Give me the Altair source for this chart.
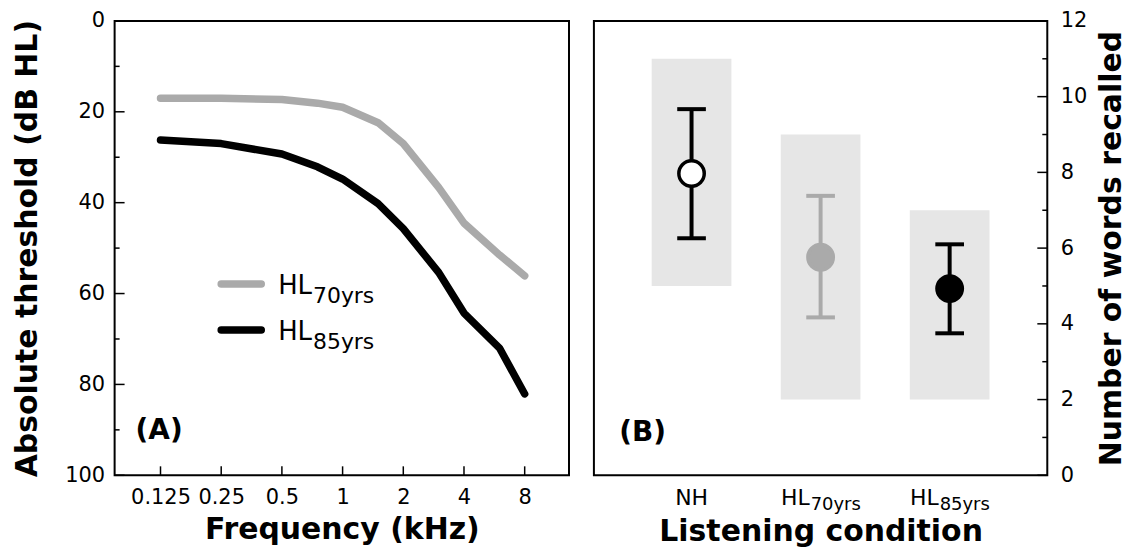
import altair as alt
import pandas as pd

# ---------------- data ----------------
freqs = [0.125, 0.25, 0.5, 0.75, 1, 1.5, 2, 3, 4, 6, 8]
hl70 = [17.0, 17.0, 17.3, 18.1, 19.0, 22.4, 27.0, 36.7, 44.5, 51.5, 56.1]
hl85 = [26.2, 27.0, 29.3, 32.1, 34.8, 40.2, 45.7, 55.4, 64.3, 72.0, 82.1]
freq_ticks = [0.125, 0.25, 0.5, 1, 2, 4, 8]
thr_major = [0, 20, 40, 60, 80, 100]
thr_minor = [10, 30, 50, 70, 90]

series_names = ["HL70", "HL85"]
series_sub = ["70yrs", "85yrs"]
legend_thr = [57.9, 68.0]

cond_x = [1, 2, 3]
cond_main = ["NH", "HL", "HL"]
cond_sub = ["", "70yrs", "85yrs"]
means = [7.97, 5.76, 4.93]
err_lo = [6.26, 4.17, 3.75]
err_hi = [9.67, 7.38, 6.10]
range_lo = [5, 2, 2]
range_hi = [11, 9, 7]
cond_fill = ["#ffffff", "#aaaaaa", "#000000"]
cond_stroke = ["#000000", "#aaaaaa", "#000000"]
words_major = [0, 2, 4, 6, 8, 10, 12]
words_minor = [1, 3, 5, 7, 9, 11]

FONT = "DejaVu Sans"
GREY = "#aaaaaa"
W_L, W_R, H = 456, 455, 456

# ---------------- panel A ----------------
df_lines = pd.DataFrame({
    "freq": freqs * 2,
    "thr": hl70 + hl85,
    "series": [series_names[0]] * len(freqs) + [series_names[1]] * len(freqs),
})
xs = alt.Scale(type="log", base=2, domain=[0.125 * 2 ** -0.756, 8 * 2 ** 0.73])
ys = alt.Scale(domain=[0, 100], reverse=True)
col = alt.Scale(domain=series_names, range=[GREY, "#000000"])
XT = "Frequency (kHz)"
YT = "Absolute threshold (dB HL)"

lines = alt.Chart(df_lines).mark_line(strokeWidth=7.5, strokeCap="round", strokeJoin="round").encode(
    x=alt.X("freq:Q", scale=xs, title=XT,
            axis=alt.Axis(values=freq_ticks, format="~g", ticks=False, domain=False, grid=False,
                          labelPadding=11, titlePadding=7)),
    y=alt.Y("thr:Q", scale=ys, title=YT,
            axis=alt.Axis(values=thr_major, ticks=False, domain=False, grid=False,
                          labelPadding=10, titlePadding=22)),
    color=alt.Color("series:N", scale=col, legend=None),
    order="freq:Q",
)

ytick_major = alt.Chart(pd.DataFrame({"thr": thr_major})).mark_rule(color="black", strokeWidth=1.5).encode(
    y=alt.Y("thr:Q", scale=ys, title=YT), x=alt.value(0), x2=alt.value(10))
ytick_minor = alt.Chart(pd.DataFrame({"thr": thr_minor})).mark_rule(color="black", strokeWidth=1.5).encode(
    y=alt.Y("thr:Q", scale=ys, title=YT), x=alt.value(0), x2=alt.value(5))
xtick = alt.Chart(pd.DataFrame({"freq": freq_ticks})).mark_rule(color="black", strokeWidth=1.5).encode(
    x=alt.X("freq:Q", scale=xs, title=XT), y=alt.value(H), y2=alt.value(H - 9))

df_leg = pd.DataFrame({"freq": [0.25] * 2, "freq2": [0.395] * 2, "thr": legend_thr,
                       "series": series_names, "sub": series_sub, "main": ["HL", "HL"], "tx": [0.479] * 2})
leg_lines = alt.Chart(df_leg).mark_rule(strokeWidth=7.5, strokeCap="round").encode(
    x=alt.X("freq:Q", scale=xs, title=XT), x2="freq2:Q",
    y=alt.Y("thr:Q", scale=ys, title=YT),
    color=alt.Color("series:N", scale=col, legend=None))
leg_main = alt.Chart(df_leg).mark_text(font=FONT, fontSize=26, align="left", baseline="alphabetic", dy=10).encode(
    x=alt.X("tx:Q", scale=xs, title=XT), y=alt.Y("thr:Q", scale=ys, title=YT), text="main:N")
leg_sub = alt.Chart(df_leg).mark_text(font=FONT, fontSize=22, align="left", baseline="alphabetic", dx=35, dy=19).encode(
    x=alt.X("tx:Q", scale=xs, title=XT), y=alt.Y("thr:Q", scale=ys, title=YT), text="sub:N")

lab_a = alt.Chart(pd.DataFrame({"freq": [0.094], "thr": [90.3], "t": ["(A)"]})).mark_text(
    font=FONT, fontSize=28, fontWeight="bold", align="left", baseline="middle").encode(
    x=alt.X("freq:Q", scale=xs, title=XT), y=alt.Y("thr:Q", scale=ys, title=YT), text="t:N")

panel_a = alt.layer(lines, ytick_major, ytick_minor, xtick, leg_lines, leg_main, leg_sub, lab_a).properties(
    width=W_L, height=H)

# ---------------- panel B ----------------
df_c = pd.DataFrame({"cx": cond_x, "mean": means, "lo": err_lo, "hi": err_hi,
                     "rlo": range_lo, "rhi": range_hi, "fill": cond_fill, "stroke": cond_stroke,
                     "main": cond_main, "sub": cond_sub})
bx = alt.Scale(domain=[0.282, 3.718])
by = alt.Scale(domain=[0, 12])
BXT = "Listening condition"
BYT = "Number of words recalled"
base = alt.Chart(df_c)

boxes = base.mark_bar(size=80, color="#e6e6e6").encode(
    x=alt.X("cx:Q", scale=bx, title=BXT,
            axis=alt.Axis(labels=False, ticks=False, domain=False, grid=False, titlePadding=41)),
    y=alt.Y("rlo:Q", scale=by, title=BYT,
            axis=alt.Axis(orient="right", values=words_major, ticks=False, domain=False, grid=False,
                          labelPadding=13, titlePadding=10, titleAngle=270, titleBaseline="top")),
    y2="rhi:Q")
err = base.mark_rule(strokeWidth=4).encode(
    x=alt.X("cx:Q", scale=bx, title=BXT), y=alt.Y("lo:Q", scale=by, title=BYT), y2="hi:Q",
    color=alt.Color("stroke:N", scale=None))
caps_hi = base.transform_calculate(a="datum.cx - 0.111", b="datum.cx + 0.111").mark_rule(strokeWidth=4).encode(
    x=alt.X("a:Q", scale=bx, title=BXT), x2="b:Q", y=alt.Y("hi:Q", scale=by, title=BYT),
    color=alt.Color("stroke:N", scale=None))
caps_lo = base.transform_calculate(a="datum.cx - 0.111", b="datum.cx + 0.111").mark_rule(strokeWidth=4).encode(
    x=alt.X("a:Q", scale=bx, title=BXT), x2="b:Q", y=alt.Y("lo:Q", scale=by, title=BYT),
    color=alt.Color("stroke:N", scale=None))
pts = base.mark_point(shape="circle", filled=True, size=650, strokeWidth=3.5, opacity=1).encode(
    x=alt.X("cx:Q", scale=bx, title=BXT), y=alt.Y("mean:Q", scale=by, title=BYT),
    fill=alt.Fill("fill:N", scale=None), stroke=alt.Stroke("stroke:N", scale=None))

ytb_major = alt.Chart(pd.DataFrame({"v": words_major})).mark_rule(color="black", strokeWidth=1.5).encode(
    y=alt.Y("v:Q", scale=by, title=BYT), x=alt.value(W_R), x2=alt.value(W_R - 10))
ytb_minor = alt.Chart(pd.DataFrame({"v": words_minor})).mark_rule(color="black", strokeWidth=1.5).encode(
    y=alt.Y("v:Q", scale=by, title=BYT), x=alt.value(W_R), x2=alt.value(W_R - 5))

lab_b = alt.Chart(pd.DataFrame({"cx": [0.44], "v": [1.12], "t": ["(B)"]})).mark_text(
    font=FONT, fontSize=28, fontWeight="bold", align="left", baseline="middle").encode(
    x=alt.X("cx:Q", scale=bx, title=BXT), y=alt.Y("v:Q", scale=by, title=BYT), text="t:N")

# category labels: main part right-aligned at split point, subscript left-aligned there
df_cat = df_c.assign(y0=0)
cat_main_nh = alt.Chart(df_cat[df_cat["sub"] == ""]).mark_text(
    font=FONT, fontSize=22, baseline="alphabetic", align="center", dy=30).encode(
    x=alt.X("cx:Q", scale=bx, title=BXT), y=alt.Y("y0:Q", scale=by, title=BYT), text="main:N")
cat_main_hl = alt.Chart(df_cat[df_cat["sub"] != ""]).mark_text(
    font=FONT, fontSize=22, baseline="alphabetic", align="right", dx=-11, dy=30).encode(
    x=alt.X("cx:Q", scale=bx, title=BXT), y=alt.Y("y0:Q", scale=by, title=BYT), text="main:N")
cat_sub = alt.Chart(df_cat[df_cat["sub"] != ""]).mark_text(
    font=FONT, fontSize=18, baseline="alphabetic", align="left", dx=-10, dy=35).encode(
    x=alt.X("cx:Q", scale=bx, title=BXT), y=alt.Y("y0:Q", scale=by, title=BYT), text="sub:N")

panel_b = alt.layer(boxes, err, caps_hi, caps_lo, pts, ytb_major, ytb_minor,
                    cat_main_nh, cat_main_hl, cat_sub, lab_b).properties(width=W_R, height=H)

chart = alt.hconcat(panel_a, panel_b, spacing=23).configure(
    font=FONT,
    padding={"left": 3, "top": 0, "right": 0, "bottom": 0},
).configure_view(
    stroke="black", strokeWidth=2
).configure_axis(
    labelFont=FONT, labelFontSize=21, labelColor="black",
    titleFont=FONT, titleFontSize=30, titleFontWeight="bold", titleColor="black",
    grid=False,
)

chart.save("out.html", embed_options={"renderer": "svg", "actions": False})
